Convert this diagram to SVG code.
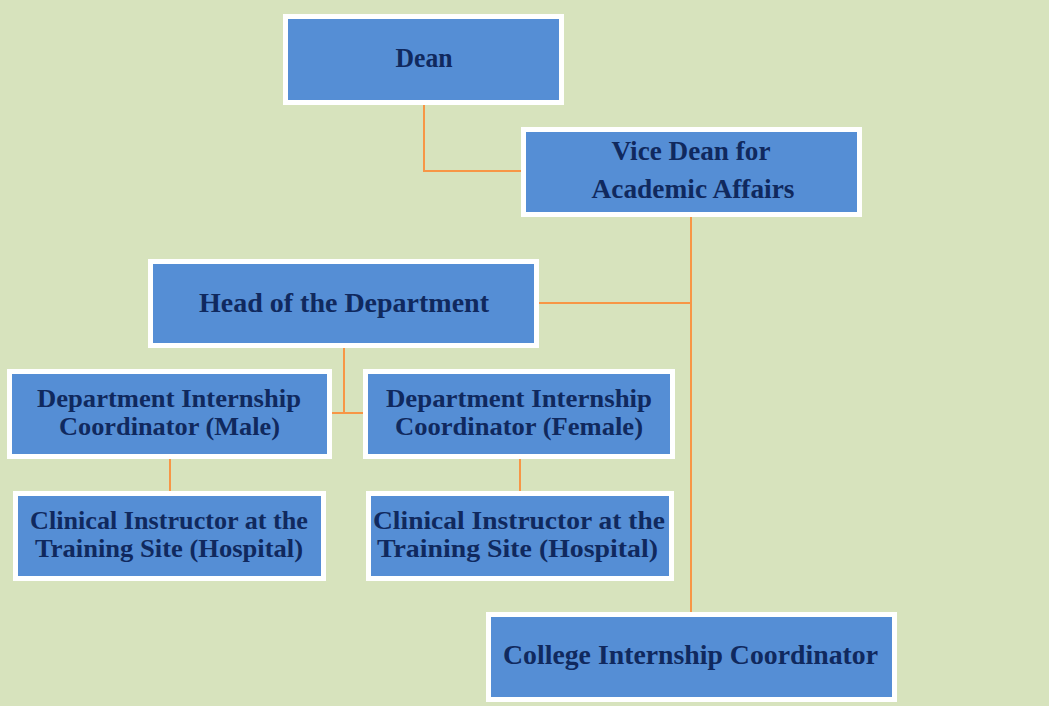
<svg xmlns="http://www.w3.org/2000/svg" width="1049" height="706" viewBox="0 0 1049 706">
<style>
.box{fill:#558ED5;stroke:#FFFFFF;stroke-width:5}
.t{font-family:"Liberation Serif",serif;font-weight:bold;font-size:27px;fill:#10295E;text-anchor:middle}
.s{font-size:25px}
.c{fill:none;stroke:#F79646;stroke-width:2}
</style>
<rect x="0" y="0" width="1049" height="706" fill="#D7E3BD"/>
<g id="connectors">
<path class="c" d="M424,104 V171 H521"/>
<path class="c" d="M691,217 V612"/>
<path class="c" d="M539,303 H691"/>
<path class="c" d="M344,348 V413 M332,413 H363"/>
<path class="c" d="M170,459 V491"/>
<path class="c" d="M520,459 V491"/>
</g>
<g id="dean">
<rect class="box" x="285.5" y="16.5" width="276" height="86"/>
<text class="t" x="424" y="67" textLength="57" lengthAdjust="spacingAndGlyphs">Dean</text>
</g>
<g id="vice-dean">
<rect class="box" x="523.5" y="129.5" width="336" height="85"/>
<text class="t" x="691" y="160" textLength="159" lengthAdjust="spacingAndGlyphs">Vice Dean for</text>
<text class="t" x="693" y="198" textLength="203" lengthAdjust="spacingAndGlyphs">Academic Affairs</text>
</g>
<g id="head">
<rect class="box" x="150.5" y="261.5" width="386" height="84"/>
<text class="t" x="344" y="312" textLength="290" lengthAdjust="spacingAndGlyphs">Head of the Department</text>
</g>
<g id="coord-male">
<rect class="box" x="9.5" y="371.5" width="320" height="85"/>
<text class="t s" x="169" y="407" textLength="264" lengthAdjust="spacingAndGlyphs">Department Internship</text>
<text class="t s" x="169.5" y="435" textLength="221" lengthAdjust="spacingAndGlyphs">Coordinator (Male)</text>
</g>
<g id="coord-female">
<rect class="box" x="365.5" y="371.5" width="307" height="85"/>
<text class="t s" x="519" y="407" textLength="266" lengthAdjust="spacingAndGlyphs">Department Internship</text>
<text class="t s" x="519" y="435" textLength="248" lengthAdjust="spacingAndGlyphs">Coordinator (Female)</text>
</g>
<g id="instructor-male">
<rect class="box" x="15.5" y="493.5" width="308" height="85"/>
<text class="t s" x="169" y="529" textLength="278" lengthAdjust="spacingAndGlyphs">Clinical Instructor at the</text>
<text class="t s" x="169" y="557" textLength="268" lengthAdjust="spacingAndGlyphs">Training Site (Hospital)</text>
</g>
<g id="instructor-female">
<rect class="box" x="368.5" y="493.5" width="303" height="85"/>
<text class="t s" x="519" y="529" textLength="292" lengthAdjust="spacingAndGlyphs">Clinical Instructor at the</text>
<text class="t s" x="517.5" y="557" textLength="281" lengthAdjust="spacingAndGlyphs">Training Site (Hospital)</text>
</g>
<g id="college-coord">
<rect class="box" x="488.5" y="614.5" width="406" height="85"/>
<text class="t" x="690.5" y="664" textLength="375" lengthAdjust="spacingAndGlyphs">College Internship Coordinator</text>
</g>
</svg>
